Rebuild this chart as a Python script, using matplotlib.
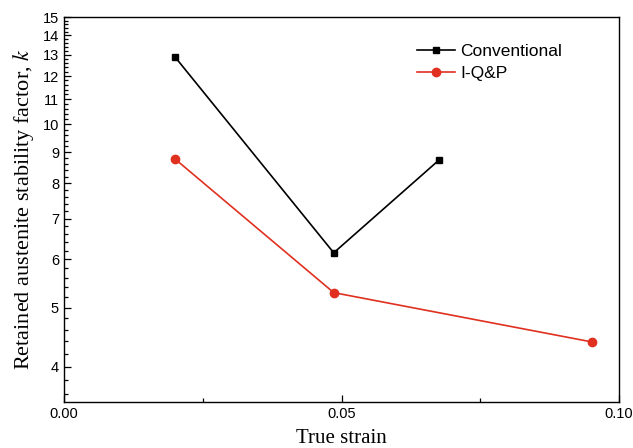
import numpy as np
import matplotlib
matplotlib.use("Agg")
import matplotlib.pyplot as plt
from matplotlib.ticker import FixedLocator, FixedFormatter, NullFormatter

plt.rcParams["mathtext.fontset"] = "stix"

# valores
strain_conv = [0.020, 0.0486, 0.0676]
k_conv = [12.9, 6.15, 8.74]
strain_iqp = [0.020, 0.0486, 0.0951]
k_iqp = [8.77, 5.29, 4.39]
yticks = [4, 5, 6, 7, 8, 9, 10, 11, 12, 13, 14, 15]
xticks = [0.0, 0.05, 0.10]
xtick_labels = ["0.00", "0.05", "0.10"]

fig = plt.figure(figsize=(6.33, 4.48), dpi=100)
ax = fig.add_axes([0.101, 0.103, 0.877, 0.859])

ax.plot(strain_conv, k_conv, "-s", color="black", lw=1.2, ms=5, label="Conventional")
ax.plot(strain_iqp, k_iqp, "-o", color="#e03020", lw=1.2, ms=6, label="I-Q&P")

ax.set_yscale("log")
ax.set_ylim(3.5, 15)
ax.set_xlim(0, 0.1)
ax.yaxis.set_major_locator(FixedLocator(yticks))
ax.yaxis.set_major_formatter(FixedFormatter([str(t) for t in yticks]))
ax.yaxis.set_minor_locator(FixedLocator(np.arange(3.6, 15.0, 0.2)))
ax.yaxis.set_minor_formatter(NullFormatter())
ax.set_xticks(xticks)
ax.set_xticklabels(xtick_labels)
ax.set_xticks([0.025, 0.075], minor=True)

ax.tick_params(which="both", direction="in", top=False, right=False,
               labelsize=10.5, width=0.9)
ax.tick_params(which="major", length=5)
ax.tick_params(which="minor", length=3)
for lab in ax.get_xticklabels() + ax.get_yticklabels():
    lab.set_fontfamily("Liberation Sans")
for s in ax.spines.values():
    s.set_linewidth(1.0)

ax.set_xlabel("True strain", family="Liberation Serif", fontsize=15, labelpad=6)
ax.set_ylabel("Retained austenite stability factor, $k$", family="Liberation Serif",
              fontsize=16, labelpad=5)

ax.legend(loc="upper right", bbox_to_anchor=(0.926, 0.972), frameon=False,
          prop={"family": "Liberation Sans", "size": 12.5},
          handlelength=2.2, handletextpad=0.3, labelspacing=0.4)

fig.savefig("out.png", dpi=100)
